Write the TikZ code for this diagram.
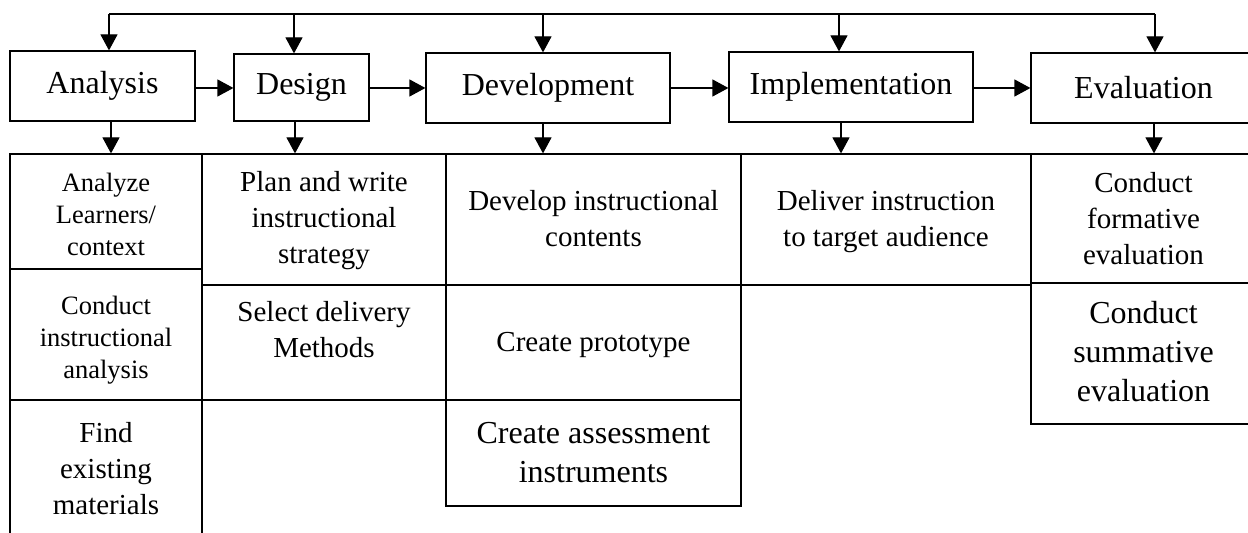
\documentclass[tikz,border=0pt]{standalone}
\usepackage{fontspec}
\setmainfont{Liberation Serif}
\usetikzlibrary{arrows.meta,fit}
\begin{document}
\begin{tikzpicture}[x=0.5pt,y=-0.5pt,line width=0.6pt,
  phase/.style={draw,inner sep=0pt,minimum height=35pt,font=\fontsize{16}{19}\selectfont},
  cell/.style={draw,inner sep=0pt},
  txt/.style={align=center,inner sep=0pt,font=\fontsize{14.5}{18}\selectfont},
  smalltxt/.style={align=center,inner sep=0pt,font=\fontsize{13.25}{16}\selectfont},
  largetxt/.style={align=center,inner sep=0pt,font=\fontsize{16}{19.5}\selectfont},
  arr/.style={-{Triangle[length=8pt,width=8.5pt]}}]
\useasboundingbox (0,0) rectangle (1248,533);
\clip (0,0) rectangle (1248,533);

% the five phases
\node[phase,minimum width=92.5pt] (ana) at (102.5,86) {Analysis};
\node[phase,minimum width=67.5pt,minimum height=33.5pt] (des) at (301.5,87.5) {Design};
\node[phase,minimum width=122pt] (dev) at (548,88) {Development};
\node[phase,minimum width=122pt] (imp) at (851,87) {Implementation};
\node[phase,minimum width=112.5pt] (eva) at (1143.5,88) {Evaluation};

% task cells under each phase
\node[cell,fit={(10,154)(202,269)}]   (a1) {};
\node[cell,fit={(10,269)(202,400)}]   (a2) {};
\node[cell,fit={(10,400)(202,538)}]   (a3) {};
\node[cell,fit={(202,154)(446,285)}]  (s1) {};
\node[cell,fit={(202,285)(446,400)}]  (s2) {};
\node[cell,fit={(446,154)(741,285)}]  (v1) {};
\node[cell,fit={(446,285)(741,400)}]  (v2) {};
\node[cell,fit={(446,400)(741,506)}]  (v3) {};
\node[cell,fit={(741,154)(1031,285)}] (i1) {};
\node[cell,fit={(1031,154)(1256,283)}] (e1) {};
\node[cell,fit={(1031,283)(1256,424)}] (e2) {};

% cell texts
\node[smalltxt] (a1t) at (106,214) {Analyze\\Learners/\\context};
\node[smalltxt] (a2t) at (106,340) {Conduct\\instructional\\analysis};
\node[txt]      (a3t) at (106,469) {Find\\existing\\materials};
\node[txt]      (s1t) at (324,221) {Plan and write\\instructional\\strategy};
\node[txt]      (s2t) at (324,330) {Select delivery\\Methods};
\node[txt]      (v1t) at (593.5,219) {Develop instructional\\contents};
\node[txt]      (v2t) at (593.5,345) {Create prototype};
\node[largetxt] (v3t) at (593.5,453) {Create assessment\\instruments};
\node[txt]      (i1t) at (886,222) {Deliver instruction\\to target audience};
\node[txt]      (e1t) at (1143.5,218.5) {Conduct\\formative\\evaluation};
\node[largetxt] (e2t) at (1143.5,352) {Conduct\\summative\\evaluation};

% feedback line over the phases
\coordinate (f1) at (109,14);
\coordinate (f2) at (294,14);
\coordinate (f3) at (543,14);
\coordinate (f4) at (839,14);
\coordinate (f5) at (1155,14);
\draw (f1) -- (f5);
\draw[arr] (f1) -- (f1 |- ana.north);
\draw[arr] (f2) -- (f2 |- des.north);
\draw[arr] (f3) -- (f3 |- dev.north);
\draw[arr] (f4) -- (f4 |- imp.north);
\draw[arr] (f5) -- (f5 |- eva.north);

% phase to phase
\coordinate (hy) at (0,88);
\draw[arr] (ana.east |- hy) -- (des.west |- hy);
\draw[arr] (des.east |- hy) -- (dev.west |- hy);
\draw[arr] (dev.east |- hy) -- (imp.west |- hy);
\draw[arr] (imp.east |- hy) -- (eva.west |- hy);

% phase to its tasks
\coordinate (d1) at (111,0);
\coordinate (d2) at (295,0);
\coordinate (d3) at (543,0);
\coordinate (d4) at (841,0);
\coordinate (d5) at (1154,0);
\draw[arr] (d1 |- ana.south) -- (d1 |- a1.north);
\draw[arr] (d2 |- des.south) -- (d2 |- s1.north);
\draw[arr] (d3 |- dev.south) -- (d3 |- v1.north);
\draw[arr] (d4 |- imp.south) -- (d4 |- i1.north);
\draw[arr] (d5 |- eva.south) -- (d5 |- e1.north);
\end{tikzpicture}
\end{document}
